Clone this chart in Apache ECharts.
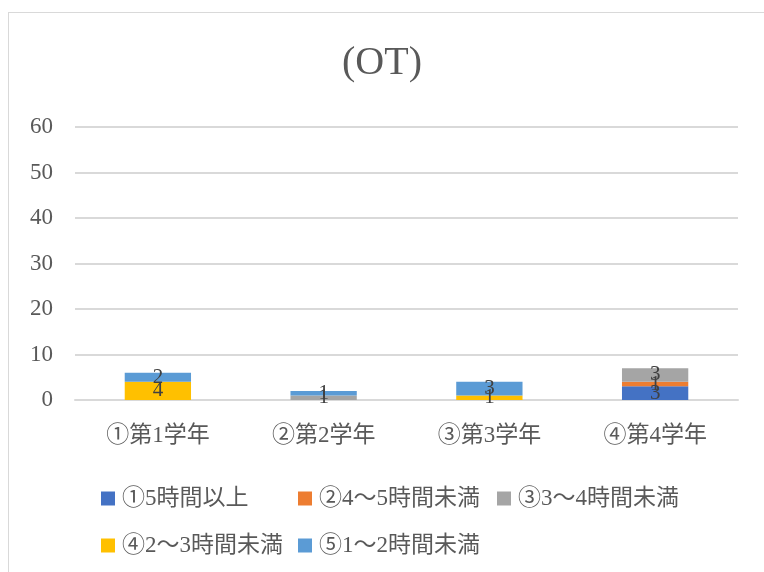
<!DOCTYPE html>
<html>
<head>
<meta charset="utf-8">
<script src="https://cdn.jsdelivr.net/npm/echarts@6/dist/echarts.min.js"></script>
<style>
  html, body { margin: 0; padding: 0; background: #fff; }
  #main { width: 764px; height: 572px; }
  #frame { position: absolute; left: 8px; top: 12px; width: 800px; height: 600px;
           border: 1px solid #d9d9d9; pointer-events: none; }
</style>
</head>
<body>
<div id="main"></div>
<div id="frame"></div>
<script>
// categories (x axis)
var categories = ['①第1学年', '②第2学年', '③第3学年', '④第4学年'];
// series names
var seriesNames = ['①5時間以上', '②4～5時間未満', '③3～4時間未満', '④2～3時間未満', '⑤1～2時間未満'];
// values per series (null = nothing drawn)
var s1 = [null, null, null, 3];
var s2 = [null, null, null, 1];
var s3 = [null, 1, null, 3];
var s4 = [4, null, 1, null];
var s5 = [2, 1, 3, null];
var colors = ['#4472C4', '#ED7D31', '#A5A5A5', '#FFC000', '#5B9BD5'];

var font = '"Liberation Serif", "Noto Sans CJK JP", serif';
var values = [s1, s2, s3, s4, s5];

var chart = echarts.init(document.getElementById('main'));

var series = [];
for (var i = 0; i < seriesNames.length; i++) {
  series.push({
    name: seriesNames[i],
    type: 'bar',
    stack: 'total',
    barWidth: '40%',
    data: values[i],
    itemStyle: { color: colors[i] },
    label: {
      show: true,
      position: 'inside',
      color: '#404040',
      fontFamily: font,
      fontSize: 21
    }
  });
}

function legendAt(names, left) {
  return {
    data: names,
    orient: 'vertical',
    left: left,
    top: 487,
    padding: 0,
    itemGap: 24,
    itemWidth: 14,
    itemHeight: 14,
    icon: 'rect',
    textStyle: { color: '#595959', fontFamily: font, fontSize: 23, padding: [0, 0, 0, 2] }
  };
}

chart.setOption({
  animation: false,
  color: colors,
  title: {
    text: '(OT)',
    left: 'center',
    top: 39,
    textStyle: { color: '#595959', fontFamily: font, fontSize: 40, fontWeight: 'normal' }
  },
  legend: [
    legendAt([seriesNames[0], seriesNames[3]], 101),
    legendAt([seriesNames[1], seriesNames[4]], 298),
    legendAt([seriesNames[2]], 497)
  ],
  grid: { left: 75, right: 26, top: 127, bottom: 172 },
  xAxis: {
    type: 'category',
    data: categories,
    axisLine: { lineStyle: { color: '#d9d9d9', width: 2 } },
    axisTick: { show: false },
    axisLabel: { color: '#595959', fontFamily: font, fontSize: 23, margin: 24 }
  },
  yAxis: {
    type: 'value',
    min: 0,
    max: 60,
    interval: 10,
    axisLine: { show: false },
    axisTick: { show: false },
    splitLine: { lineStyle: { color: '#d9d9d9', width: 2 } },
    axisLabel: { color: '#595959', fontFamily: font, fontSize: 23, margin: 22 }
  },
  series: series
});
</script>
</body>
</html>
